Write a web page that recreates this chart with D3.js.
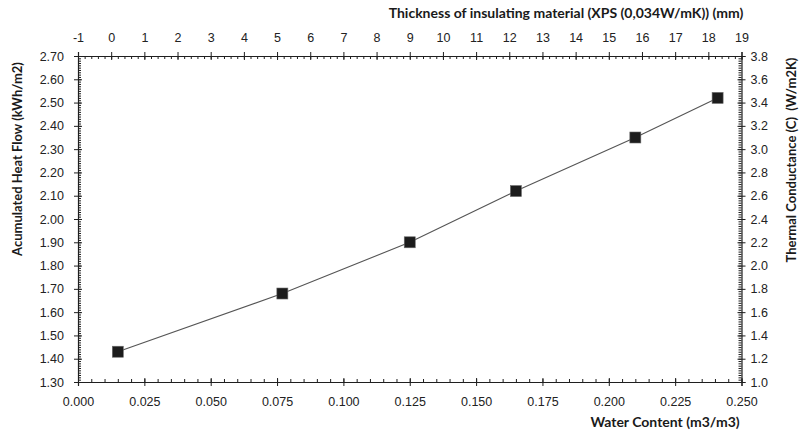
<!DOCTYPE html>
<html>
<head>
<meta charset="utf-8">
<script src="https://cdn.jsdelivr.net/npm/d3@7"></script>
<style>
  html, body { margin: 0; padding: 0; background: #fff; }
  svg { display: block; font-family: Lato, "Open Sans", sans-serif; }
</style>
</head>
<body>
<svg id="chart" width="801" height="432"></svg>
<script>
// ---- data ----
const waterContent = [0.015, 0.077, 0.125, 0.165, 0.210, 0.241];
const heatFlow     = [1.43, 1.68, 1.90, 2.12, 2.35, 2.52];

// ---- tick labels ----
const bottomTicks = [0.000, 0.025, 0.050, 0.075, 0.100, 0.125, 0.150, 0.175, 0.200, 0.225, 0.250];
const leftTicks   = [1.30, 1.40, 1.50, 1.60, 1.70, 1.80, 1.90, 2.00, 2.10, 2.20, 2.30, 2.40, 2.50, 2.60, 2.70];
const topTicks    = [-1, 0, 1, 2, 3, 4, 5, 6, 7, 8, 9, 10, 11, 12, 13, 14, 15, 16, 17, 18, 19];
const rightTicks  = [1.0, 1.2, 1.4, 1.6, 1.8, 2.0, 2.2, 2.4, 2.6, 2.8, 3.0, 3.2, 3.4, 3.6, 3.8];

const titleBottom = "Water Content (m3/m3)";
const titleLeft   = "Acumulated Heat Flow (kWh/m2)";
const titleTop    = "Thickness of insulating material (XPS (0,034W/mK)) (mm)";
const titleRight  = "Thermal Conductance (C)\u00A0\u00A0(W/m2K)";

// ---- layout ----
const L = 78, R = 741.5, T = 56, B = 382;
const axisColor = "#1f1f1f", textColor = "#222";

const svg = d3.select("#chart");

const x  = d3.scaleLinear().domain([0, 0.25]).range([L, R]);
const x2 = d3.scaleLinear().domain([-1, 19]).range([L, R]);
const y  = d3.scaleLinear().domain([1.30, 2.70]).range([B, T]);
const y2 = d3.scaleLinear().domain([1.0, 3.8]).range([B, T]);

function styleAxis(g) {
  g.select(".domain").attr("stroke", axisColor).attr("stroke-width", 1.2);
  g.selectAll(".tick line").attr("stroke", axisColor).attr("stroke-width", 1);
  g.selectAll(".tick text").attr("fill", textColor).style("font-size", "12.5px");
}

// minor ticks (inside)
const minorB = d3.range(0, 0.2501, 0.005);
const minorT = d3.range(-1, 19.001, 0.2);
const minorL = d3.range(1.30, 2.7001, 0.01);
const minorR = d3.range(1.0, 3.8001, 0.02);

svg.append("g").attr("transform", `translate(0,${B})`)
  .call(d3.axisBottom(x).tickValues(minorB).tickSize(-3).tickFormat(""))
  .call(styleAxis).call(g => g.select(".domain").remove());
svg.append("g").attr("transform", `translate(0,${T})`)
  .call(d3.axisTop(x2).tickValues(minorT).tickSize(-3).tickFormat(""))
  .call(styleAxis).call(g => g.select(".domain").remove());
svg.append("g").attr("transform", `translate(${L},0)`)
  .call(d3.axisLeft(y).tickValues(minorL).tickSize(-3).tickFormat(""))
  .call(styleAxis).call(g => g.select(".domain").remove());
svg.append("g").attr("transform", `translate(${R},0)`)
  .call(d3.axisRight(y2).tickValues(minorR).tickSize(-3).tickFormat(""))
  .call(styleAxis).call(g => g.select(".domain").remove());

// major axes
const gB = svg.append("g").attr("transform", `translate(0,${B})`)
  .call(d3.axisBottom(x).tickValues(bottomTicks).tickSizeOuter(0).tickSize(4).tickFormat(d3.format(".3f")))
  .call(styleAxis);
gB.selectAll(".tick line").attr("y1", -4).attr("y2", 4);
gB.selectAll(".tick text").attr("y", 20).attr("dy", "0.32em");

const gT = svg.append("g").attr("transform", `translate(0,${T})`)
  .call(d3.axisTop(x2).tickValues(topTicks).tickSizeOuter(0).tickSize(4).tickFormat(d => String(d)))
  .call(styleAxis);
gT.selectAll(".tick line").attr("y1", -4).attr("y2", 4);
gT.selectAll(".tick text").attr("y", -18).attr("dy", "0.32em");

const gL = svg.append("g").attr("transform", `translate(${L},0)`)
  .call(d3.axisLeft(y).tickValues(leftTicks).tickSizeOuter(0).tickSize(4).tickFormat(d3.format(".2f")))
  .call(styleAxis);
gL.selectAll(".tick line").attr("x1", -4).attr("x2", 4);
gL.selectAll(".tick text").attr("x", -14);

const gR = svg.append("g").attr("transform", `translate(${R},0)`)
  .call(d3.axisRight(y2).tickValues(rightTicks).tickSizeOuter(0).tickSize(4).tickFormat(d3.format(".1f")))
  .call(styleAxis);
gR.selectAll(".tick line").attr("x1", -4).attr("x2", 4);
gR.selectAll(".tick text").attr("x", 9);

// ---- titles ----
const tStyle = (sel, size) => sel.attr("fill", "#1a1a1a").style("font-size", size).style("font-weight", "bold");
svg.append("text").attr("x", 566).attr("y", 13).attr("dy", "0.35em")
  .attr("text-anchor", "middle").text(titleTop).call(tStyle, "14px");
svg.append("text").attr("x", 665).attr("y", 422).attr("dy", "0.35em")
  .attr("text-anchor", "middle").text(titleBottom).call(tStyle, "14px");
svg.append("text").attr("transform", "translate(17,159) rotate(-90)").attr("dy", "0.35em")
  .attr("text-anchor", "middle").text(titleLeft).call(tStyle, "13px");
svg.append("text").attr("transform", "translate(791,160) rotate(-90)").attr("dy", "0.35em")
  .attr("text-anchor", "middle").text(titleRight).call(tStyle, "13px");

// ---- series ----
const pts = waterContent.map((w, i) => [w, heatFlow[i]]);
svg.append("path")
  .datum(pts)
  .attr("fill", "none")
  .attr("stroke", "#555")
  .attr("stroke-width", 1.1)
  .attr("d", d3.line().x(d => x(d[0])).y(d => y(d[1])));

const S = 11;
svg.append("g").selectAll("rect").data(pts).join("rect")
  .attr("x", d => x(d[0]) - S / 2)
  .attr("y", d => y(d[1]) - S / 2)
  .attr("width", S).attr("height", S)
  .attr("fill", "#1c1c1c")
  .attr("stroke", "#6a6a6a")
  .attr("stroke-width", 0.6);
</script>
</body>
</html>
